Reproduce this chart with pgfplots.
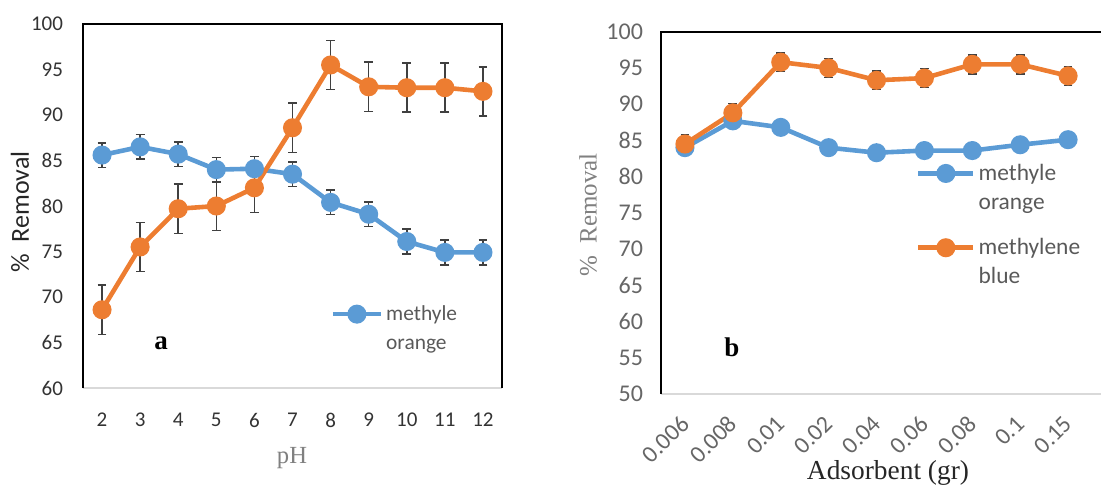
\documentclass[border=0pt]{standalone}
\usepackage{pgfplots}
\pgfplotsset{compat=1.18}
\usepackage{fontspec}
\setmainfont{Liberation Serif}
\newfontfamily\calfont{Carlito}
\definecolor{mblue}{HTML}{5B9BD5}
\definecolor{morange}{HTML}{ED7D31}
\definecolor{errc}{HTML}{404040}
\definecolor{botc}{HTML}{D9D9D9}
\begin{document}
\begin{tikzpicture}
\path[use as bounding box] (0,0) rectangle (550.5pt,-242pt);
\clip (0,0) rectangle (550.5pt,-242pt);
% ---------------- panel a ----------------
\begin{axis}[
  at={(41.5pt,-194pt)}, anchor=south west,
  width=209.5pt, height=182pt, scale only axis,
  xmin=1.5, xmax=12.5, ymin=60, ymax=100,
  xtick={2,3,...,12}, ytick={60,65,...,100},
  major tick length=0pt,
  axis line style={draw=none},
  clip=false,
  tick label style={font=\calfont\fontsize{10.5}{12}\selectfont, text=black!80},
  xticklabel style={yshift=-9pt},
  yticklabel style={xshift=-6.5pt},
  /pgf/number format/assume math mode=true,
  legend style={at={(rel axis cs:0.59,0.252)}, anchor=north west, draw=none, fill=none,
    font=\calfont\fontsize{10.7}{14.6}\selectfont, text=black!65, inner sep=0pt,
    nodes={anchor=base west, inner sep=1.5pt}},
  legend image code/.code={\draw[mark repeat=2,mark phase=2,#1] plot coordinates {(0pt,3pt) (12pt,3pt) (24pt,3pt)};},
]
\draw[botc, line width=1pt] (rel axis cs:0,0) -- (rel axis cs:1,0);
\draw[black, line width=1pt] (rel axis cs:0,0) -- (rel axis cs:0,1) -- (rel axis cs:1,1) -- (rel axis cs:1,0);
\addplot[mblue, line width=2.3pt, mark=*, mark size=3.6pt, mark options={fill=mblue, draw=mblue},
  error bars/.cd, y dir=both, y explicit,
  error bar style={errc, line width=0.8pt},
  error mark options={errc, line width=0.8pt, mark size=2.2pt, rotate=90}]
  coordinates {
  (2,85.6) +- (0,1.35)
  (3,86.5) +- (0,1.35)
  (4,85.7) +- (0,1.35)
  (5,84.0) +- (0,1.35)
  (6,84.1) +- (0,1.35)
  (7,83.5) +- (0,1.35)
  (8,80.4) +- (0,1.35)
  (9,79.1) +- (0,1.35)
  (10,76.1) +- (0,1.35)
  (11,74.9) +- (0,1.35)
  (12,74.9) +- (0,1.35)
  };
\addlegendentry{\begin{tabular}[t]{@{}l@{}}methyle\\orange\end{tabular}}
\addplot[forget plot, morange, line width=2.3pt, mark=*, mark size=3.6pt, mark options={fill=morange, draw=morange},
  error bars/.cd, y dir=both, y explicit,
  error bar style={errc, line width=0.8pt},
  error mark options={errc, line width=0.8pt, mark size=2.2pt, rotate=90}]
  coordinates {
  (2,68.6) +- (0,2.7)
  (3,75.5) +- (0,2.7)
  (4,79.7) +- (0,2.7)
  (5,80.0) +- (0,2.7)
  (6,82.0) +- (0,2.7)
  (7,88.6) +- (0,2.7)
  (8,95.5) +- (0,2.7)
  (9,93.1) +- (0,2.7)
  (10,93.0) +- (0,2.7)
  (11,93.0) +- (0,2.7)
  (12,92.6) +- (0,2.7)
  };
\node[font=\bfseries\fontsize{13.5}{15}\selectfont] at (axis cs:3.55,64.9) {a};
\end{axis}
% ---------------- panel b ----------------
\begin{axis}[
  at={(330.5pt,-197pt)}, anchor=south west,
  width=220.3pt, height=181.15pt, scale only axis,
  xmin=-0.5, xmax=8.7, ymin=50, ymax=100,
  xtick={0,1,...,8}, xticklabels={0.006,0.008,0.01,0.02,0.04,0.06,0.08,0.1,0.15},
  ytick={50,55,...,100},
  major tick length=0pt,
  axis line style={draw=none},
  clip=false,
  tick label style={font=\calfont\fontsize{12}{14}\selectfont, text=black!60},
  xticklabel style={xshift=2.5pt, yshift=-10.5pt, rotate=45, anchor=east},
  yticklabel style={xshift=-5.5pt},
  /pgf/number format/assume math mode=true,
  legend style={at={(rel axis cs:0.578,0.656)}, anchor=north west, draw=none, fill=none,
    font=\calfont\fontsize{11.7}{14.5}\selectfont, text=black!65, inner sep=0pt, row sep=22.5pt,
    nodes={anchor=base west, inner sep=1.5pt}},
  legend image code/.code={\draw[mark repeat=2,mark phase=2,#1] plot coordinates {(0pt,3.3pt) (13.75pt,3.3pt) (27.5pt,3.3pt)};},
]
\draw[botc, line width=1pt] (rel axis cs:0,0) -- (rel axis cs:1,0);
\draw[black, line width=1pt] (rel axis cs:0,0) -- (rel axis cs:0,1) -- (rel axis cs:1,1);
\addplot[mblue, line width=2.3pt, mark=*, mark size=3.6pt, mark options={fill=mblue, draw=mblue}]
  coordinates {
  (0,84.0) (1,87.7) (2,86.8) (3,84.0) (4,83.3) (5,83.6) (6,83.6) (7,84.4) (8,85.1)
  };
\addlegendentry{\begin{tabular}[t]{@{}l@{}}methyle\\orange\end{tabular}}
\addplot[morange, line width=2.3pt, mark=*, mark size=3.6pt, mark options={fill=morange, draw=morange},
  error bars/.cd, y dir=both, y explicit,
  error bar style={errc, line width=0.8pt},
  error mark options={errc, line width=0.8pt, mark size=2.2pt, rotate=90}]
  coordinates {
  (0,84.5) +- (0,1.3)
  (1,88.8) +- (0,1.3)
  (2,95.8) +- (0,1.3)
  (3,95.0) +- (0,1.3)
  (4,93.3) +- (0,1.3)
  (5,93.6) +- (0,1.3)
  (6,95.5) +- (0,1.3)
  (7,95.5) +- (0,1.3)
  (8,93.9) +- (0,1.3)
  };
\addlegendentry{\begin{tabular}[t]{@{}l@{}}methylene\\blue\end{tabular}}
\node[font=\bfseries\fontsize{13.5}{15}\selectfont] at (axis cs:0.98,56.5) {b};
\end{axis}
% ---------------- axis titles ----------------
\node[rotate=90, font=\calfont\fontsize{13}{15}\selectfont, text=black!85] at (10pt,-106pt) {\%\ \ Removal};
\node[font=\fontsize{12.3}{14}\selectfont, text=black!50] at (146pt,-229pt) {pH};
\node[rotate=90, font=\fontsize{12.5}{14}\selectfont, text=black!50] at (294pt,-107.5pt) {\%\ \ Removal};
\node[font=\fontsize{13.7}{15}\selectfont, text=black!85] at (444pt,-236.5pt) {Adsorbent (gr)};
\end{tikzpicture}
\end{document}
